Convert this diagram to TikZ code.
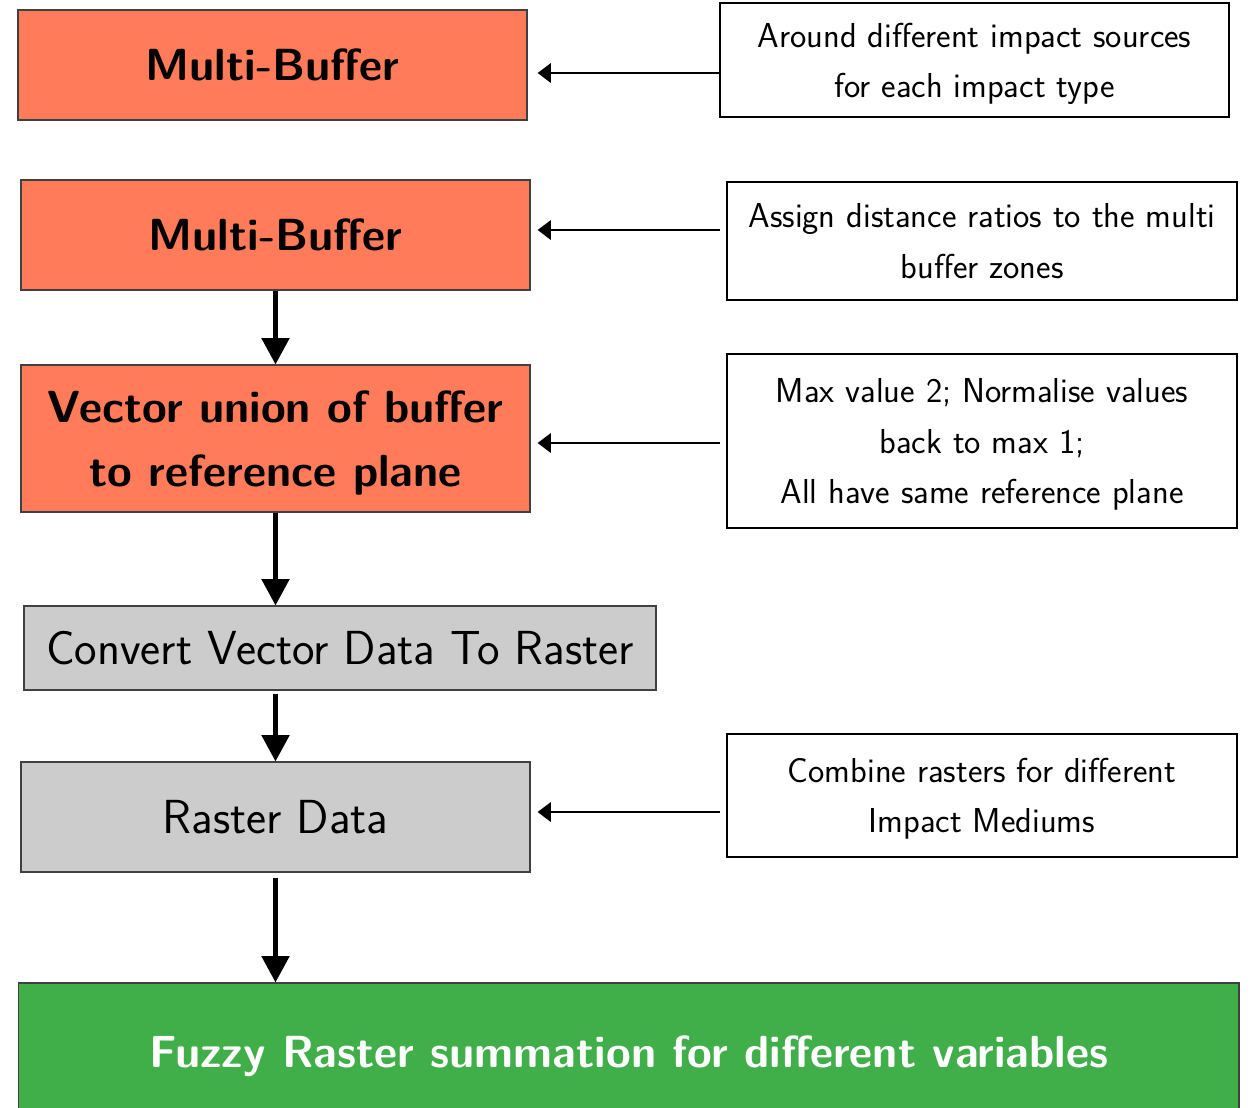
\documentclass[tikz,border=0pt]{standalone}
\usepackage{fontspec}
\usetikzlibrary{arrows.meta}
\definecolor{bufcol}{RGB}{255,123,90}
\definecolor{rascol}{RGB}{204,204,204}
\definecolor{sumcol}{RGB}{65,175,73}
\begin{document}
\begin{tikzpicture}[line cap=butt,line join=miter,x=0.02cm,y=-0.02cm,
    bufbox/.style={draw=black!75,line width=0.7pt,fill=bufcol,inner sep=0pt,align=center,text depth=0pt,
        font=\sffamily\bfseries\fontsize{25.6}{36.4}\selectfont},
    rasbox/.style={draw=black!75,line width=0.7pt,fill=rascol,inner sep=0pt,align=center,text depth=0pt,
        font=\sffamily\fontsize{27.2}{36}\selectfont},
    notebox/.style={draw=black,line width=0.9pt,fill=white,inner sep=0pt,align=center,text depth=0pt,
        minimum width=10.2cm,font=\sffamily\fontsize{19.7}{28.6}\selectfont},
    down/.style={line width=2.6pt,-{Triangle[width=15.5pt,length=15pt]}},
    feed/.style={line width=1.1pt,-{Triangle[width=11pt,length=7.5pt]}}]
    \useasboundingbox (0,0) rectangle (1254,1107);
    % main chain
    \node[bufbox,minimum width=10.18cm,minimum height=2.2cm] (buf1) at (272.5,65) {Multi-Buffer};
    \node[bufbox,minimum width=10.18cm,minimum height=2.2cm] (buf2) at (275.5,235) {Multi-Buffer};
    \node[bufbox,minimum width=10.18cm,minimum height=2.94cm] (union) at (275.5,438.5) {Vector union of buffer\\to reference plane};
    \node[rasbox,minimum width=12.64cm,minimum height=1.68cm] (convert) at (340,648) {Convert Vector Data To Raster};
    \node[rasbox,minimum width=10.18cm,minimum height=2.2cm] (raster) at (275.5,817) {Raster Data};
    \node[draw=black!75,line width=0.7pt,fill=sumcol,inner sep=0pt,minimum width=24.42cm,minimum height=2.74cm,text depth=0pt,
        text=white,font=\sffamily\bfseries\fontsize{25.6}{30}\selectfont] (fuzzy) at (628.5,1051.5) {Fuzzy Raster summation for different variables};
    % notes
    \node[notebox,minimum width=10.18cm,minimum height=2.28cm] (note1) at (974.5,60) {Around different impact sources\\for each impact type};
    \node[notebox,minimum height=2.36cm] (note2) at (982,241) {Assign distance ratios to the multi\\buffer zones};
    \node[notebox,minimum height=3.48cm] (note3) at (982,441) {Max value 2; Normalise values\\back to max 1;\\All have same reference plane};
    \node[notebox,minimum height=2.46cm] (note4) at (982,795.5) {Combine rasters for different\\Impact Mediums};
    % arrows
    \draw[down] (buf2.south) -- (union.north);
    \draw[down] (union.south) -- (union.south |- convert.north);
    \draw[down,shorten <=1.7pt] (raster.north |- convert.south) -- (raster.north);
    \draw[down,shorten <=2.8pt] (raster.south) -- (raster.south |- fuzzy.north);
    \draw[feed,shorten >=5.7pt] (note1.west |- 0,73) -- (buf1.east |- 0,73);
    \draw[feed,shorten >=4pt] (720,230) -- (buf2.east |- 0,230);
    \draw[feed,shorten >=4pt] (720,443) -- (union.east |- 0,443);
    \draw[feed,shorten >=4pt] (720,812) -- (raster.east |- 0,812);
\end{tikzpicture}
\end{document}
